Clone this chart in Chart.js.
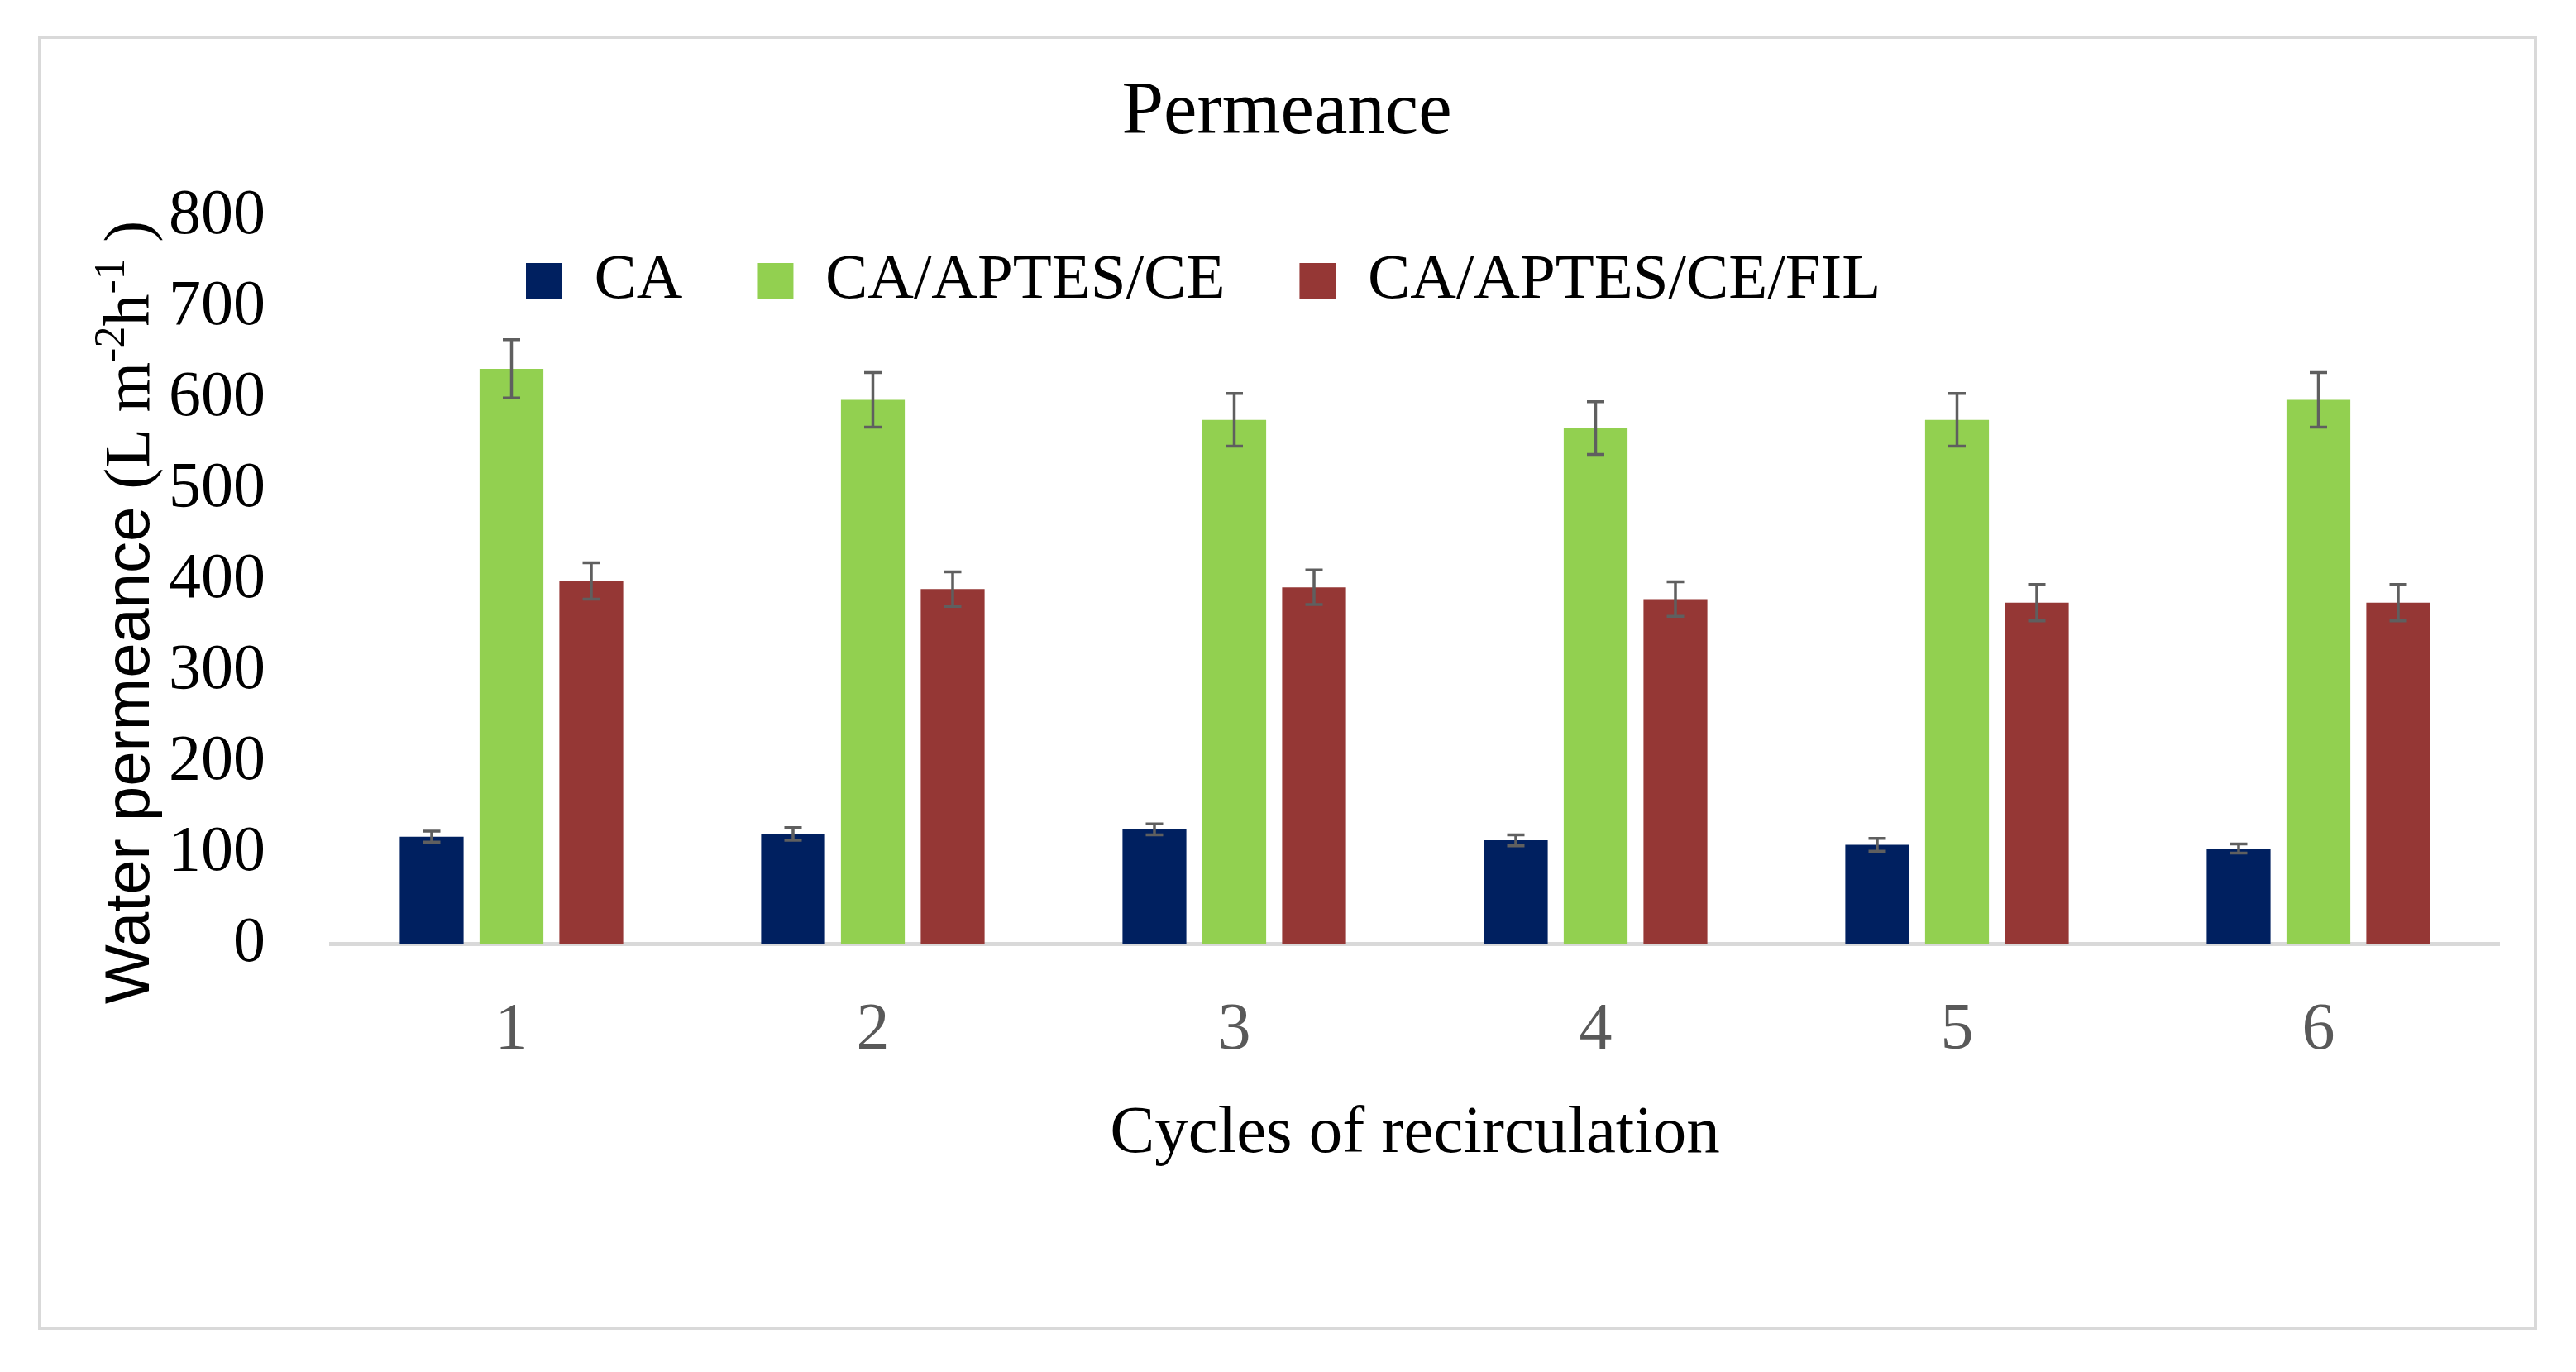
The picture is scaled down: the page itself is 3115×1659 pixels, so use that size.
<!DOCTYPE html>
<html>
<head>
<meta charset="utf-8">
<title>Permeance</title>
<script src="https://cdn.jsdelivr.net/npm/chart.js@4.4.1/dist/chart.umd.min.js"></script>
<style>
  html, body { margin: 0; padding: 0; background: #fff; }
  #wrap { width: 3115px; height: 1659px; }
</style>
</head>
<body>
<div id="wrap"><canvas id="permeanceChart" width="3115" height="1659"></canvas></div>
<script>
// values (L m-2 h-1)
const cycles = ['1', '2', '3', '4', '5', '6'];
const caValues = [118, 121, 126, 114, 109, 105];
const caErrors = [6, 7, 6, 6, 7, 5];
const apteValues = [632, 598, 576, 567, 576, 598];
const apteErrors = [32, 30, 29, 29, 29, 30];
const filValues = [399, 390, 392, 379, 375, 375];
const filErrors = [20, 19, 19, 19, 20, 20];
const yTicks = [0, 100, 200, 300, 400, 500, 600, 700, 800];

const serif = "'Liberation Serif', 'Times New Roman', serif";
const sans = "'Liberation Sans', Arial, sans-serif";

// light grey frame around the whole figure
const framePlugin = {
  id: 'frame',
  beforeDraw(chart) {
    const { ctx, width, height } = chart;
    ctx.save();
    ctx.fillStyle = '#fff';
    ctx.fillRect(0, 0, width, height);
    ctx.strokeStyle = '#d9d9d9';
    ctx.lineWidth = 4;
    ctx.strokeRect(48, 45, 3018, 1561);
    ctx.restore();
  },
};

// legend overlaps the top of the plot, a bit left of centre (as in the original)
const legendSpot = { x: 636, y: 340 };
const legendShift = {
  id: 'legendShift',
  afterLayout(chart) {
    const legend = chart.legend;
    if (!legend) return;
    const opts = legend.options.labels;
    legend.left = legendSpot.x - opts.padding;
    legend.right = chart.width;
    legend.top = legendSpot.y - opts.padding - opts.font.size / 2;
    legend.bottom = legend.top + opts.font.size + opts.padding * 2;
    legend.width = legend.right - legend.left;
    legend.height = legend.bottom - legend.top;
  },
};

// error bars from each dataset's errors array
const errorBars = {
  id: 'errorBars',
  afterDatasetsDraw(chart) {
    const { ctx } = chart;
    const yScale = chart.scales.y;
    ctx.save();
    ctx.strokeStyle = '#5f5f5f';
    ctx.lineWidth = 3.5;
    chart.data.datasets.forEach((ds, i) => {
      const meta = chart.getDatasetMeta(i);
      meta.data.forEach((bar, j) => {
        const err = ds.errors[j];
        const top = yScale.getPixelForValue(ds.data[j] + err);
        const bottom = yScale.getPixelForValue(ds.data[j] - err);
        const half = 10.5;
        ctx.beginPath();
        ctx.moveTo(bar.x, top);
        ctx.lineTo(bar.x, bottom);
        ctx.moveTo(bar.x - half, top);
        ctx.lineTo(bar.x + half, top);
        ctx.moveTo(bar.x - half, bottom);
        ctx.lineTo(bar.x + half, bottom);
        ctx.stroke();
      });
    });
    ctx.restore();
  },
};

// y axis title with mixed fonts and superscripts
const yTitleParts = [
  { text: 'Water permeance ', font: '76px ' + sans, rise: 0 },
  { text: '(L m', font: '78px ' + serif, rise: 0 },
  { text: '-2', font: '52px ' + serif, rise: 30 },
  { text: 'h', font: '78px ' + serif, rise: 0 },
  { text: '-1', font: '52px ' + serif, rise: 30 },
  { text: ' )', font: '78px ' + serif, rise: 0 },
];
const yTitle = {
  id: 'yTitle',
  afterDraw(chart) {
    const { ctx } = chart;
    ctx.save();
    ctx.translate(180, 1214);
    ctx.rotate(-Math.PI / 2);
    ctx.fillStyle = '#000';
    ctx.textBaseline = 'alphabetic';
    ctx.textAlign = 'left';
    let x = 0;
    yTitleParts.forEach((part) => {
      ctx.font = part.font;
      ctx.fillText(part.text, x, -part.rise);
      x += ctx.measureText(part.text).width;
    });
    ctx.restore();
  },
};

const ctx = document.getElementById('permeanceChart');
new Chart(ctx, {
  type: 'bar',
  data: {
    labels: cycles,
    datasets: [
      { label: 'CA', data: caValues, errors: caErrors, backgroundColor: '#002060' },
      { label: 'CA/APTES/CE', data: apteValues, errors: apteErrors, backgroundColor: '#92d050' },
      { label: 'CA/APTES/CE/FIL', data: filValues, errors: filErrors, backgroundColor: '#953735' },
    ],
  },
  options: {
    responsive: false,
    animation: false,
    devicePixelRatio: 1,
    layout: { padding: { left: 90, right: 93, top: 0, bottom: 267 } },
    datasets: {
      bar: { categoryPercentage: 0.6625, barPercentage: 0.8, borderWidth: 0 },
    },
    plugins: {
      title: {
        display: true,
        text: 'Permeance',
        color: '#000',
        font: { family: serif, size: 91, weight: 'normal' },
        padding: { top: 82, bottom: 69 },
      },
      legend: {
        position: 'top',
        align: 'start',
        maxHeight: 1,
        labels: {
          color: '#000',
          font: { family: serif, size: 77 },
          boxWidth: 44,
          boxHeight: 44,
          padding: 90,
        },
      },
      tooltip: { enabled: false },
    },
    scales: {
      x: {
        grid: { display: false, drawTicks: false },
        border: { display: true, color: '#d9d9d9', width: 5 },
        ticks: {
          color: '#595959',
          font: { family: serif, size: 80 },
          padding: 57,
        },
        title: {
          display: true,
          text: 'Cycles of recirculation',
          color: '#000',
          font: { family: serif, size: 81, lineHeight: 0.5 },
          padding: 0,
        },
      },
      y: {
        min: 0,
        max: 800,
        afterBuildTicks(scale) {
          scale.ticks = yTicks.map((v) => ({ value: v }));
        },
        afterFit(scale) {
          scale.width += 35;
        },
        grid: { display: false, drawTicks: false },
        border: { display: false },
        ticks: {
          color: '#000',
          font: { family: serif, size: 78 },
          padding: 79,
        },
      },
    },
  },
  plugins: [framePlugin, legendShift, errorBars, yTitle],
});
</script>
</body>
</html>
